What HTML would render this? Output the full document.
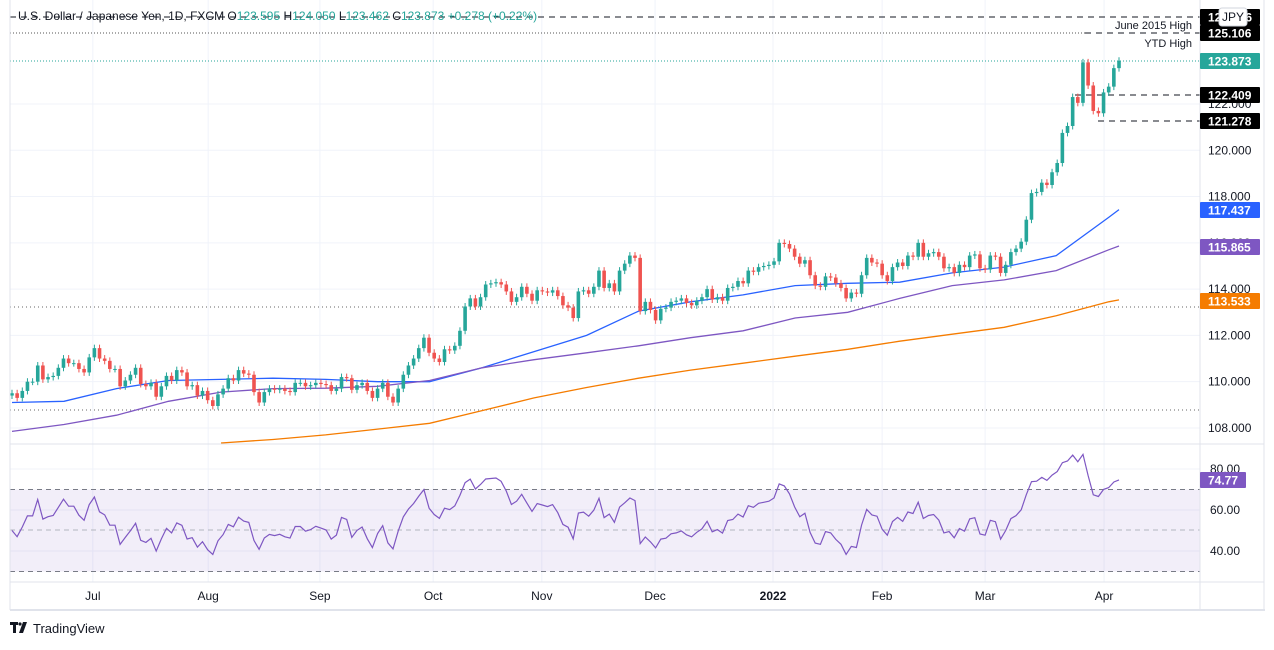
<!DOCTYPE html>
<html><head><meta charset="utf-8">
<style>
html,body{margin:0;padding:0;background:#fff;}
body{width:1274px;height:645px;overflow:hidden;font-family:"Liberation Sans",sans-serif;}
svg text{font-family:"Liberation Sans",sans-serif;}
</style></head>
<body>
<svg id="chart" width="1274" height="645" viewBox="0 0 1274 645" xmlns="http://www.w3.org/2000/svg">
<g id="grid"></g>
<rect x="10" y="489.5" width="1190" height="82" fill="#7e57c2" fill-opacity="0.1"/>
<g id="levels"></g>
<g id="mas"></g>
<g id="candles"></g>
<g id="rsi"></g>
<g id="axes"></g>
<g id="labels"></g>
<text x="18" y="20" font-size="12" fill="#131722">U.S. Dollar / Japanese Yen, 1D, FXCM  O<tspan fill="#26a69a">123.595</tspan>  H<tspan fill="#26a69a">124.050</tspan>  L<tspan fill="#26a69a">123.462</tspan>  C<tspan fill="#26a69a">123.873  +0.278 (+0.22%)</tspan></text>
<g>
<rect x="10" y="622" width="8" height="3" fill="#131722"/><rect x="13" y="622" width="3" height="11" fill="#131722"/>
<polygon points="19,633 23,622 27,622 23,633" fill="#131722"/><circle cx="20" cy="624" r="1.6" fill="#131722"/>
<text x="33" y="633" font-size="13" fill="#131722">TradingView</text>
</g>
</svg>
<script>
const closes=[109.5,109.3,109.6,110.0,110.0,110.7,110.1,110.2,110.25,110.6,111.0,110.8,110.8,110.55,110.4,111.05,111.45,111.0,110.9,110.55,110.55,109.8,110.05,110.3,110.6,109.9,109.8,109.95,109.35,109.8,110.25,110.05,110.5,110.4,109.8,109.85,109.4,109.6,109.2,108.95,109.45,109.7,110.15,110.05,110.5,110.35,110.3,109.55,109.1,109.55,109.7,109.65,109.7,109.6,109.55,109.95,109.95,109.8,109.85,109.95,109.9,109.85,109.6,109.7,110.2,110.15,109.65,109.85,109.95,109.6,109.3,109.7,109.95,109.35,109.1,109.7,110.3,110.7,111.0,111.45,
111.9,111.25,111.0,110.85,111.4,111.35,111.55,112.2,113.25,113.6,113.25,113.65,114.2,114.25,114.3,114.2,113.9,113.45,113.65,114.1,113.8,113.5,113.95,113.9,113.85,113.95,113.7,113.3,113.2,112.75,113.9,113.95,113.8,114.1,114.8,114.05,114.25,113.9,114.8,115.1,115.45,115.35,113.05,113.45,113.1,112.65,113.15,113.2,113.45,113.5,113.6,113.4,113.3,113.5,113.65,114.0,113.55,113.65,113.5,114.05,114.1,114.35,114.25,114.8,114.75,114.95,115.0,115.05,115.2,116.0,115.95,115.75,115.4,
115.1,115.25,114.6,114.15,114.1,114.55,114.5,114.25,114.05,113.6,113.85,113.8,114.6,115.35,115.15,115.1,114.6,114.35,114.95,115.15,115.0,115.45,115.4,116.0,115.4,115.55,115.6,115.4,114.9,114.95,114.7,115.05,114.95,115.45,115.5,114.9,114.85,115.45,115.4,114.7,115.05,115.6,115.75,116.05,117.0,
118.15,118.2,118.6,118.5,119.05,119.45,120.75,121.05,122.3,122.05,123.8,122.8,121.7,121.6,122.5,122.75,123.55,123.873];
const maIdx=[0,10.1,20.3,30.4,40.6,50.7,60.9,71,81.1,91.3,101.4,111.6,121.7,131.8,142,152.1,162.3,172.4,182.6,192.7,202.8,213,215];
const sma50=[109.1,109.15,109.7,110.05,110.1,110.15,110.1,110.0,110.0,110.6,111.3,112.0,113.05,113.45,113.75,114.15,114.25,114.3,114.7,114.95,115.45,117.1,117.437];
const sma100=[107.85,108.15,108.55,109.15,109.55,109.7,109.72,109.8,110.05,110.6,110.95,111.25,111.55,111.9,112.2,112.75,113.0,113.6,114.15,114.4,114.8,115.7,115.865];
const sma200=[null,null,null,null,107.35,107.5,107.7,107.95,108.2,108.75,109.3,109.75,110.15,110.5,110.8,111.1,111.4,111.75,112.05,112.35,112.85,113.45,113.533];
const priceTicks=[122,120,118,116,114,112,110,108];
const rsiTicks=[80,60,40];
const months=['Jul','Aug','Sep','Oct','Nov','Dec','2022','Feb','Mar','Apr'];
const monthIdx=[15.7,38.1,59.8,81.8,102.9,124.9,147.8,169,189,212.1];

const NS='http://www.w3.org/2000/svg';
function el(tag,attrs,parent,txt){const e=document.createElementNS(NS,tag);for(const k in attrs)e.setAttribute(k,attrs[k]);if(txt!==undefined)e.textContent=txt;parent.appendChild(e);return e;}
const STEP=1107/(closes.length-1);
const X=i=>12+STEP*i;
const Y=p=>104+(122-p)*23.14;
const RY=r=>469+(80-r)*2.05;
const G=document.getElementById('grid');
priceTicks.forEach(p=>{const l=el('line',{x1:10,x2:1200,y1:Y(p),y2:Y(p),stroke:'#f0f3fa'},G);

});
rsiTicks.forEach(r=>{const l=el('line',{x1:10,x2:1200,y1:RY(r),y2:RY(r),stroke:'#f0f3fa'},G);

});
monthIdx.forEach(m=>{const l=el('line',{x1:X(m),x2:X(m),y1:0,y2:582,stroke:'#f0f3fa'},G);

});

const L=document.getElementById('levels');
[[17,10,1200,'6,5','#131722'],[33,10,1085,'1,2','#555'],[33,1085,1200,'6,5','#131722'],[61,10,1200,'1,2','#26a69a'],[95,1075,1200,'6,5','#131722'],[121,1098,1200,'6,5','#131722'],[307,10,1200,'1,3','#666'],[410,10,1200,'1,3','#666']].forEach(a=>{
const l=el('line',{x1:a[1],x2:a[2],y1:a[0],y2:a[0],stroke:a[4],'stroke-dasharray':a[3]},L);

});
const t1=el('text',{x:1192,y:29,'font-size':11,fill:'#131722','text-anchor':'end'},L,'June 2015 High');


const t2=el('text',{x:1192,y:47,'font-size':11,fill:'#131722','text-anchor':'end'},L,'YTD High');



const M=document.getElementById('mas');
[[sma50,'#2962ff'],[sma100,'#7e57c2'],[sma200,'#f57c00']].forEach(s=>{
let pts=[];s[0].forEach((v,k)=>{if(v!==null)pts.push(X(maIdx[k]).toFixed(1)+','+Y(v).toFixed(1));});
const p=el('polyline',{points:pts.join(' '),fill:'none',stroke:s[1],'stroke-width':1.3},M);

});

const C=document.getElementById('candles');
closes.forEach((c,i)=>{
const o=i?closes[i-1]:c-0.1;const up=c>=o;const col=up?'#26a69a':'#ef5350';
const hi=Math.max(o,c)+0.15,lo=Math.min(o,c)-0.15;const x=X(i);
const w=el('line',{x1:x,x2:x,y1:Y(hi),y2:Y(lo),stroke:col},C);


const top=Y(Math.max(o,c)),h=Math.max(1,Y(Math.min(o,c))-top);
const b=el('rect',{x:x-1.8,y:top,width:3.6,height:h,fill:col},C);

});

const R=document.getElementById('rsi');
[[489.5,'#787b86','5,4'],[530,'#b2b5be','5,4'],[571.5,'#787b86','5,4']].forEach(a=>{
const l=el('line',{x1:10,x2:1200,y1:a[0],y2:a[0],stroke:a[1],'stroke-dasharray':a[2]},R);

});
let ag=0.12,al=0.12,rp=[];
closes.forEach((c,i)=>{if(i){const d=c-closes[i-1];ag=(ag*13+Math.max(d,0))/14;al=(al*13+Math.max(-d,0))/14;}
const r=100-100/(1+ag/al);rp.push(X(i).toFixed(1)+','+RY(r).toFixed(1));});
const rl=el('polyline',{points:rp.join(' '),fill:'none',stroke:'#7e57c2','stroke-width':1.2},R);



const A=document.getElementById('axes');
[[1200,0,1200,610],[10,444,1200,444],[10,582,1264,582],[10,610,1265,610],[1264,0,1264,610],[1200,444,1264,444],[10,0,10,610]].forEach(a=>{
const l=el('line',{x1:a[0],y1:a[1],x2:a[2],y2:a[3],stroke:'#e0e3eb','stroke-width':a[1]==610?2:1},A);

});
priceTicks.forEach(p=>{const t=el('text',{x:1208,y:Y(p)+4,'font-size':12,fill:'#131722'},A,p.toFixed(3));

});
rsiTicks.forEach(r=>{const t=el('text',{x:1210,y:RY(r)+4,'font-size':12,fill:'#131722'},A,r.toFixed(2));

});
months.forEach((m,k)=>{const t=el('text',{x:X(monthIdx[k]),y:600,'font-size':12,fill:'#131722','text-anchor':'middle','font-weight':m==='2022'?'bold':'normal'},A,m);

});

const LB=document.getElementById('labels');
[[17,'125.6?6','#000'],[33,'125.106','#000'],[61,'123.873','#26a69a'],[95,'122.409','#000'],[121,'121.278','#000'],[210,'117.437','#2962ff'],[247,'115.865','#7e57c2'],[301,'113.533','#f57c00'],[480,'74.77','#7e57c2']].forEach(a=>{
const r=el('rect',{x:1200,y:a[0]-8,width:a[1]==='74.77'?46:60,height:16,fill:a[2],rx:1},LB);


const t=el('text',{x:1208,y:a[0]+4.5,'font-size':12,fill:'#fff','font-weight':'bold'},LB,a[1]);

});
const jb=el('rect',{x:1219,y:8,width:28,height:18,rx:3,fill:'#fff',stroke:'#d1d4dc'},LB);


const jt=el('text',{x:1233,y:21,'font-size':12,fill:'#131722','text-anchor':'middle'},LB,'JPY');


</script>
</body></html>
